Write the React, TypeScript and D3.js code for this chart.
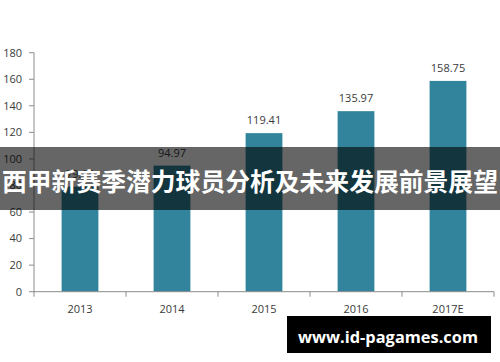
import React from "react";
import * as d3 from "d3";

const categories = ["2013", "2014", "2015", "2016", "2017E"];
const values = [79.14, 94.97, 119.41, 135.97, 158.75];
const yTicks = [0, 20, 40, 60, 80, 100, 120, 140, 160, 180];
const bannerText = "西甲新赛季潜力球员分析及未来发展前景展望";
const watermark = "www.id-pagames.com";

const W = 500;
const H = 362;

export default function App() {
  const x = d3.scaleBand<string>().domain(categories).range([34, 494]).paddingInner(0.6).paddingOuter(0.3);
  const y = d3.scaleLinear().domain([0, 180]).range([291.7, 52.7]);
  const axisColor = "#8c8c8c";
  const textColor = "#3a3a3a";
  const font = "'Open Sans', 'DejaVu Sans', sans-serif";
  const edges = [34, ...categories.map((c) => (x(c) as number) + x.bandwidth() / 2 + x.step() / 2)];
  return (
    <div style={{ position: "fixed", left: 0, top: 0 }}>
      <svg width={W} height={H} viewBox={`0 0 ${W} ${H}`} style={{ display: "block", background: "#fff" }}>
        <rect x={0} y={0} width={W} height={H} fill="#fff" />
        {/* y axis */}
        <line x1={34} x2={34} y1={y(180)} y2={y(0)} stroke={axisColor} strokeWidth={1} />
        {yTicks.map((t) => (
          <g key={t}>
            <line x1={29} x2={34} y1={y(t)} y2={y(t)} stroke={axisColor} />
            <text x={22} y={y(t)} dy="0.35em" textAnchor="end" fontFamily={font} fontSize={11} fill={textColor}>
              {t}
            </text>
          </g>
        ))}
        {/* bars */}
        {categories.map((c, i) => (
          <g key={c}>
            <rect x={x(c)} y={y(values[i])} width={x.bandwidth()} height={y(0) - y(values[i])} fill="#31849b" />
            <text
              x={(x(c) as number) + x.bandwidth() / 2}
              y={y(values[i]) - 9}
              textAnchor="middle"
              fontFamily={font}
              fontSize={11}
              fill={textColor}
            >
              {values[i].toFixed(2)}
            </text>
            <text
              x={(x(c) as number) + x.bandwidth() / 2}
              y={313}
              textAnchor="middle"
              fontFamily={font}
              fontSize={11}
              fill={textColor}
            >
              {c}
            </text>
          </g>
        ))}
        {/* x axis */}
        <line x1={34} x2={494} y1={y(0)} y2={y(0)} stroke={axisColor} />
        {edges.map((e, i) => (
          <line key={i} x1={e} x2={e} y1={y(0)} y2={y(0) + 5} stroke={axisColor} />
        ))}
        {/* banner overlay */}
        <rect x={0} y={147} width={W} height={63} fill="#000" fillOpacity={0.6} />
        <text
          x={2}
          y={191}
          fontFamily="'Noto Sans CJK SC', sans-serif"
          fontWeight="bold"
          fontSize={24.8}
          fill="#fff"
        >
          {bannerText}
        </text>
        {/* watermark */}
        <rect x={287} y={316} width={204} height={37} fill="#000" />
        <text
          x={298}
          y={343}
          fontFamily={font}
          fontWeight="bold"
          fontSize={16.5}
          textLength={180}
          lengthAdjust="spacingAndGlyphs"
          fill="#fff"
        >
          {watermark}
        </text>
      </svg>
    </div>
  );
}
